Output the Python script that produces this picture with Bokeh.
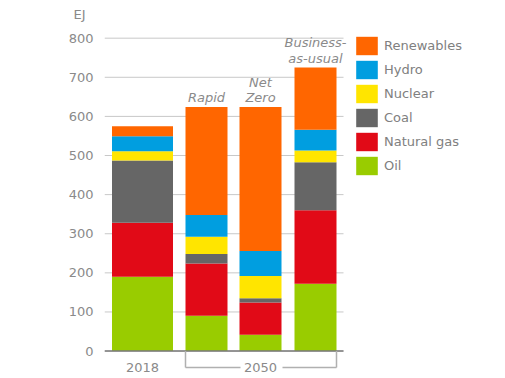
from bokeh.plotting import figure
from bokeh.models import Range1d, FixedTicker, Legend, LegendItem, ColumnDataSource
from bokeh.core.properties import value
from bokeh.embed import file_html
from bokeh.resources import INLINE

# ---- data (EJ) ----
columns = ["2018", "Rapid", "Net Zero", "Business-as-usual"]
oil = [190, 90, 42, 172]
natural_gas = [138, 134, 82, 188]
coal = [159, 24, 11, 123]
nuclear = [24, 44, 57, 30]
hydro = [38, 56, 64, 53]
renewables = [26, 276, 368, 159]
scenario_labels = ["", "Rapid", "Net\nZero", "Business-\nas-usual"]
group_labels = ["2018", "2050"]
y_ticks = [0, 100, 200, 300, 400, 500, 600, 700, 800]
unit_label = "EJ"

series_names = ["Oil", "Natural gas", "Coal", "Nuclear", "Hydro", "Renewables"]
series_keys = ["oil", "gas", "coal", "nuclear", "hydro", "renew"]
series_values = [oil, natural_gas, coal, nuclear, hydro, renewables]
series_colors = ["#99CC00", "#E10A17", "#666666", "#FFE500", "#009EE0", "#FF6600"]

# ---- layout (x in frame pixels) ----
bar_x = [38, 102, 156, 211]
bar_w = [61, 42, 42, 42]
grid_end = 239

FONT = "DejaVu Sans"
GREY_TXT = "#8a8a8a"

data = dict(x=bar_x, w=bar_w)
for k, v in zip(series_keys, series_values):
    data[k] = v
source = ColumnDataSource(data)

p = figure(width=497, height=376, output_backend="svg", toolbar_location=None,
           x_range=Range1d(0, 393), y_range=Range1d(-65.0, 832.4),
           min_border_left=104, min_border_top=24, min_border_bottom=0, min_border_right=0)
p.outline_line_color = None
p.xaxis.visible = False
p.xgrid.visible = False
p.ygrid.visible = False

p.title.text = unit_label
p.title.align = "left"
p.title.offset = -31
p.title.standoff = 8
p.title.text_font = FONT
p.title.text_font_size = "13px"
p.title.text_font_style = "normal"
p.title.text_color = GREY_TXT

ya = p.yaxis[0]
ya.ticker = FixedTicker(ticks=y_ticks)
ya.axis_line_color = None
ya.major_tick_line_color = None
ya.minor_tick_line_color = None
ya.major_label_text_font = FONT
ya.major_label_text_font_size = "13px"
ya.major_label_text_color = GREY_TXT
ya.major_label_standoff = 5

# grid lines only across the bar area
p.segment(x0=[0] * len(y_ticks), x1=[grid_end] * len(y_ticks), y0=y_ticks, y1=y_ticks,
          line_color="#c8c8c8", line_width=1)

renderers = p.vbar_stack(series_keys, x="x", width="w", source=source,
                         color=series_colors, line_color=None)

# zero line
p.segment(x0=[0], x1=[grid_end], y0=[0], y1=[0], line_color="#7a7a7a", line_width=1.5)

# scenario labels above bars
totals = [sum(vals) for vals in zip(*series_values)]
p.text(x=bar_x, y=totals, text=scenario_labels, text_align="center", text_baseline="bottom",
       y_offset=-2, text_font=value(FONT), text_font_style="italic", text_font_size="13px",
       text_color=GREY_TXT, text_line_height=1.02)

# group labels below
left = bar_x[1] - bar_w[1] / 2
right = bar_x[3] + bar_w[3] / 2
mid = bar_x[2]
p.text(x=[bar_x[0], mid], y=[0, 0], text=group_labels, text_align="center",
       text_baseline="middle", y_offset=16, text_font=value(FONT),
       text_font_size="13px", text_color=GREY_TXT)

# 2050 bracket
br_y = -42
p.segment(x0=[left, right, left, mid + 22], y0=[0, 0, br_y, br_y],
          x1=[left, right, mid - 20, right], y1=[br_y, br_y, br_y, br_y],
          line_color="#b0b0b0", line_width=1.5)

items = [LegendItem(label=n, renderers=[r]) for n, r in zip(series_names, renderers)][::-1]
legend = Legend(items=items, location=(249, 199), margin=0, padding=0,
                glyph_width=27, glyph_height=23, label_height=23, spacing=1,
                label_standoff=4, label_text_font=FONT, label_text_font_size="13px",
                label_text_color="#808080", border_line_color=None,
                background_fill_alpha=0)
p.add_layout(legend)

open("out.html", "w").write(file_html(p, INLINE))
